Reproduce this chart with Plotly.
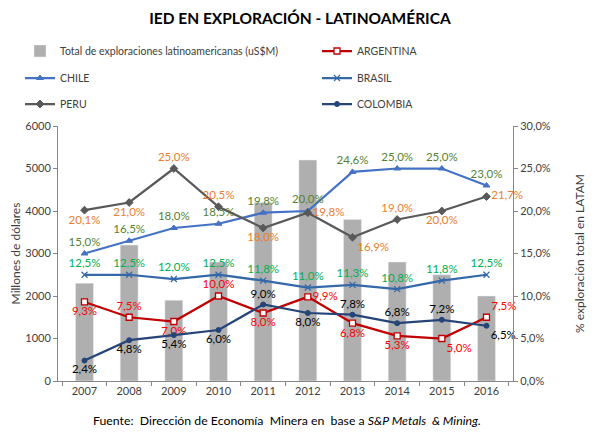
import plotly.graph_objects as go

years = ["2007", "2008", "2009", "2010", "2011", "2012", "2013", "2014", "2015", "2016"]
total_musd = [2300, 3200, 1900, 2800, 4200, 5200, 3800, 2800, 2500, 2000]
argentina = [9.3, 7.5, 7.0, 10.0, 8.0, 9.9, 6.8, 5.3, 5.0, 7.5]
chile = [15.0, 16.5, 18.0, 18.5, 19.8, 20.0, 24.6, 25.0, 25.0, 23.0]
brasil = [12.5, 12.5, 12.0, 12.5, 11.8, 11.0, 11.3, 10.8, 11.8, 12.5]
peru = [20.1, 21.0, 25.0, 20.5, 18.0, 19.8, 16.9, 19.0, 20.0, 21.7]
colombia = [2.4, 4.8, 5.4, 6.0, 9.0, 8.0, 7.8, 6.8, 7.2, 6.5]

FONT = "Lato"
W, H = 602, 448
OFF = 8  # page body margin offset compensation
ML, MT = 58 - OFF, 126 - OFF
PW, PH = 455, 255
MR, MB = W - ML - PW, H - MT - PH

pos_arg = ["bottom center", "top center", "bottom center", "top center", "bottom center",
           "middle right", "bottom center", "bottom center", "bottom right", "top right"]
pos_chile = ["top center"] * 10
pos_brasil = ["top center"] * 10
pos_peru = ["bottom center", "bottom center", "top center", "top center", "bottom center",
            "middle right", "bottom right", "top center", "bottom center", "middle right"]
pos_col = ["bottom center", "bottom center", "bottom center", "bottom center", "top center",
           "bottom center", "top center", "top center", "top center", "bottom right"]

fig = go.Figure()

fig.add_trace(go.Bar(
    x=years, y=total_musd, name="Total de exploraciones latinoamericanas (uS$M)",
    marker=dict(color="#AFAFAF"), width=0.4, legend="legend", yaxis="y",
    hoverinfo="skip", showlegend=True))

def line(name, vals, color, symbol, mcolor, mline, tcolor, tpos, legend, msize=5, mlw=1.0):
    return go.Scatter(
        x=years, y=vals, name=name, yaxis="y2", legend=legend,
        mode="lines+markers+text",
        line=dict(color=color, width=2.25),
        marker=dict(symbol=symbol, size=msize, color=mcolor,
                    line=dict(color=mline, width=mlw)),
        texttemplate="%{y:.1f}%", textposition=tpos,
        textfont=dict(family=FONT, size=11.5, color=tcolor),
        cliponaxis=False)

fig.add_trace(line("ARGENTINA", argentina, "#C00000", "square", "white", "#C00000",
                   "#FF0000", pos_arg, "legend2", msize=6, mlw=1.3))
fig.add_trace(line("CHILE", chile, "#4472C4", "triangle-up", "#4472C4", "#4472C4",
                   "#548235", pos_chile, "legend3", msize=6))
fig.add_trace(line("BRASIL", brasil, "#3468A8", "x-thin", "#3468A8", "#3468A8",
                   "#00B050", pos_brasil, "legend4", msize=6, mlw=1.2))
fig.add_trace(line("PERU", peru, "#595959", "diamond", "#595959", "#595959",
                   "#ED7D31", pos_peru, "legend5", msize=6))
fig.add_trace(line("COLOMBIA", colombia, "#264478", "circle", "#264478", "#264478",
                   "#000000", pos_col, "legend6", msize=5))

leg_common = dict(orientation="h", xref="container", yref="container",
                  xanchor="left", yanchor="middle",
                  bgcolor="rgba(0,0,0,0)",
                  font=dict(family=FONT, size=10.5, color="#404040"),
                  itemclick=False)

c1, c2 = (20 - OFF) / W, (317 - OFF) / W
r1, r2, r3 = 1 - (51 - OFF) / H, 1 - (78 - OFF) / H, 1 - (104 - OFF) / H

fig.update_layout(
    width=W, height=H, autosize=False,
    separators=",.",
    showlegend=True,
    paper_bgcolor="white", plot_bgcolor="white",
    font=dict(family=FONT, size=11, color="#404040"),
    margin=dict(l=ML, r=MR, t=MT, b=MB, autoexpand=False),
    title=dict(text="<b>IED EN EXPLORACIÓN - LATINOAMÉRICA</b>",
               x=(300 - OFF) / W, xanchor="center", y=1 - 11 / H, yanchor="middle",
               font=dict(family=FONT, size=15.5, color="#000000")),
    legend=dict(**leg_common, x=c1, y=r1),
    legend2=dict(**leg_common, x=c2, y=r1),
    legend3=dict(**leg_common, x=c1, y=r2),
    legend4=dict(**leg_common, x=c2, y=r2),
    legend5=dict(**leg_common, x=c1, y=r3),
    legend6=dict(**leg_common, x=c2, y=r3),
    xaxis=dict(type="category", tickson="boundaries", ticks="outside", ticklen=4,
               tickcolor="#868686", showline=True, linecolor="#868686", linewidth=1,
               showgrid=False, tickfont=dict(family=FONT, size=11, color="#404040")),
    yaxis=dict(range=[0, 6000], dtick=1000, tickformat="d", ticks="outside", ticklen=4,
               tickcolor="#868686", showline=True, linecolor="#868686", showgrid=False,
               zeroline=False,
               title=dict(text="Millones de dólares", standoff=8,
                          font=dict(family=FONT, size=12, color="#404040")),
               tickfont=dict(family=FONT, size=11, color="#404040"), automargin=False),
    yaxis2=dict(range=[0, 30], dtick=5, tickformat=".1f", ticksuffix="%", overlaying="y",
                side="right", ticks="outside", ticklen=4, tickcolor="#868686",
                showline=True, linecolor="#868686", showgrid=False, zeroline=False,
                title=dict(text="% exploración total en LATAM", standoff=25,
                           font=dict(family=FONT, size=12, color="#404040")),
                tickfont=dict(family=FONT, size=11, color="#404040"), automargin=False),
)

fig.add_annotation(
    text="Fuente:  Dirección de Economía  Minera en  base a <i>S&P Metals  & Mining.</i>",
    xref="paper", yref="paper", x=(287 - OFF - ML) / PW, y=(H - MB - (420 - OFF)) / PH,
    xanchor="center", yanchor="middle", showarrow=False,
    font=dict(family=FONT, size=12.3, color="#000000"))

fig.write_html("out.html")
